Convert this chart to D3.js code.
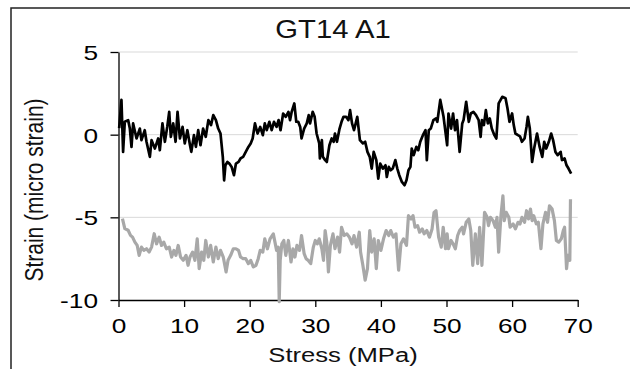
<!DOCTYPE html>
<html>
<head>
<meta charset="utf-8">
<script src="https://cdn.jsdelivr.net/npm/d3@7"></script>
<style>
  html, body { margin: 0; padding: 0; background: #fff; }
  svg { display: block; font-family: "Liberation Sans", Arial, sans-serif; }
</style>
</head>
<body>
<svg id="chart" width="630" height="369"></svg>
<script>
const title = "GT14 A1";
const xLabel = "Stress (MPa)";
const yLabel = "Strain (micro strain)";
const xTicks = [0, 10, 20, 30, 40, 50, 60, 70];
const yTicks = [-10, -5, 0, 5];

const blackStress = [0.1,0.45,0.7,0.96,1.47,1.73,1.98,2.23,2.75,3.25,3.5,4.0,4.27,4.78,5.04,5.54,6.05,6.3,6.7,7.07,7.43,7.73,7.98,8.34,8.7,9.0,9.36,9.77,10.1,10.5,10.9,11.1,11.5,11.8,12.15,12.5,12.9,13.3,13.7,14.1,14.45,14.85,15.2,15.55,15.9,16.1,16.3,16.6,16.9,17.25,17.6,17.9,18.3,18.6,19.0,19.4,19.8,20.15,20.45,20.8,21.2,21.6,22.0,22.3,22.6,23.0,23.35,23.7,24.1,24.4,24.7,25.1,25.5,25.9,26.15,26.4,26.8,27.1,27.4,27.7,27.9,28.3,28.7,29.0,29.2,29.6,29.9,30.2,30.6,30.7,31.0,31.15,31.5,31.75,32.15,32.5,32.8,33.0,33.3,33.7,34.0,34.3,34.7,35.05,35.3,35.6,35.9,36.4,36.8,37.25,37.6,37.95,38.3,38.6,38.9,39.3,39.6,39.9,40.3,40.7,40.9,41.2,41.5,41.8,42.2,42.5,42.8,43.2,43.6,43.9,44.2,44.5,44.7,45.0,45.4,45.7,46.0,46.4,46.8,47.0,47.3,47.6,48.0,48.4,48.6,49.05,49.55,50.1,50.3,50.7,51.0,51.3,51.6,52.0,52.4,52.6,53.0,53.4,53.7,54.1,54.5,54.9,55.2,55.4,55.7,56.0,56.3,56.6,56.9,57.3,57.6,57.95,58.5,59.0,59.3,59.6,60.0,60.25,60.5,60.9,61.2,61.5,61.9,62.2,62.4,62.7,63.05,63.4,63.8,64.2,64.6,64.9,65.2,65.6,65.95,66.25,66.6,66.95,67.4,67.6,68.0,68.3,68.6,69.0];
const blackStrain = [0.4,2.1,-1.04,0.78,0.88,0.37,-0.74,0.68,-0.23,0.37,-0.33,0.27,-0.43,-1.34,-0.33,-0.84,-0.23,-0.94,0.68,-0.43,0.47,1.38,-0.13,0.68,-0.43,1.38,-0.23,0.47,-0.53,0.27,-0.64,-1.04,-0.03,-0.74,0.27,-0.64,0.37,-0.13,0.88,0.58,1.18,0.88,0.37,0.07,-1.34,-2.76,-1.85,-1.65,-1.75,-1.95,-2.45,-1.75,-1.65,-1.44,-1.34,-1.04,-0.74,-0.53,-0.23,0.68,0.07,0.47,-0.03,0.68,0.27,0.78,0.27,0.78,0.47,0.88,0.27,1.28,1.08,1.38,0.88,1.38,1.89,0.78,0.78,0.47,-0.23,0.37,0.68,1.18,0.68,1.38,1.08,0.07,-0.53,-1.44,-0.33,-1.34,-1.54,-1.65,-0.64,-0.23,-0.43,0.07,-0.43,0.37,0.78,1.08,1.08,0.88,1.48,0.68,0.27,1.08,-0.33,-0.53,-0.43,-1.04,-1.34,-2.05,-1.04,-1.54,-2.66,-1.75,-2.05,-1.85,-2.56,-1.95,-2.15,-2.05,-1.54,-2.05,-2.45,-2.86,-3.06,-2.76,-2.15,-1.95,-0.84,-1.24,-0.74,-0.94,-0.43,-0.03,0.27,-1.54,0.27,0.37,0.88,0.98,0.78,2.1,1.08,-0.64,1.28,0.37,1.28,0.27,0.88,-1.04,0.68,0.88,1.99,0.78,1.28,1.38,1.18,0.88,-0.13,0.88,0.58,1.48,0.68,0.98,0.37,-0.03,-0.23,1.89,2.29,2.2,1.58,0.78,1.28,0.58,0.07,-0.03,-0.1,-0.43,-0.23,0.47,1.08,0.37,-1.65,-0.74,0.07,-0.74,-1.34,-0.43,-0.84,-0.43,0.07,-0.33,-1.04,-1.24,-1.04,-1.54,-1.44,-1.85,-2.05,-2.35];

const grayStress = [0.6,0.96,1.47,1.83,2.14,2.5,2.85,3.15,3.5,3.86,4.27,4.67,5.04,5.44,5.8,6.2,6.56,6.9,7.3,7.73,8.1,8.44,8.75,9.1,9.46,9.87,10.3,10.6,10.9,11.3,11.65,12.0,12.3,12.67,13.0,13.3,13.7,14.05,14.45,14.85,15.2,15.55,15.97,16.4,16.7,17.1,17.5,17.9,18.3,18.6,19.0,19.4,19.8,20.15,20.55,20.96,21.3,21.6,22.0,22.3,22.7,23.1,23.6,24.1,24.35,24.5,24.65,24.9,25.2,25.5,25.9,26.3,26.6,26.9,27.2,27.6,27.9,28.3,28.6,28.9,29.3,29.7,30.0,30.3,30.6,31.0,31.25,31.5,31.75,32.0,32.3,32.7,33.0,33.4,33.7,34.0,34.4,34.8,35.2,35.6,35.9,36.3,36.7,36.9,37.25,37.6,37.95,38.3,38.6,38.97,39.3,39.6,40.0,40.4,40.8,41.2,41.5,41.9,42.3,42.7,43.05,43.45,43.9,44.2,44.6,44.9,45.2,45.6,45.9,46.3,46.6,47.0,47.4,47.8,48.1,48.4,48.8,49.2,49.5,49.85,50.1,50.3,50.7,51.0,51.35,51.7,52.0,52.4,52.6,53.0,53.4,53.7,54.0,54.4,54.75,55.05,55.4,55.8,56.2,56.4,56.7,57.1,57.45,57.7,57.95,58.3,58.6,58.8,59.1,59.5,59.7,60.15,60.5,60.9,61.2,61.5,61.9,62.2,62.5,62.8,63.05,63.3,63.7,64.0,64.4,64.7,65.1,65.4,65.7,66.1,66.45,66.75,67.1,67.5,67.8,68.0,68.3,68.5,68.8,68.9];
const grayStrain = [-5.08,-5.68,-5.78,-6.09,-6.2,-6.5,-6.7,-7.3,-6.8,-7.0,-6.9,-7.1,-6.8,-5.99,-6.6,-6.2,-6.7,-6.5,-6.9,-6.8,-7.4,-7.0,-7.3,-6.7,-7.4,-7.6,-7.3,-7.9,-7.4,-7.1,-7.6,-6.3,-8.1,-7.1,-7.6,-6.4,-7.4,-6.7,-7.7,-6.8,-7.5,-7.0,-7.4,-8.3,-7.6,-7.3,-6.9,-6.9,-7.0,-7.4,-7.5,-7.5,-7.8,-7.6,-8.0,-7.9,-7.5,-7.0,-7.1,-6.3,-6.9,-6.3,-6.0,-7.0,-6.8,-10.1,-7.6,-6.6,-6.4,-7.3,-6.4,-7.7,-6.9,-7.4,-6.7,-7.0,-6.1,-7.2,-7.5,-7.6,-7.8,-6.8,-6.4,-6.6,-6.3,-6.9,-7.6,-5.8,-6.5,-8.3,-6.7,-6.0,-6.9,-6.2,-7.1,-5.6,-6.1,-6.0,-6.2,-6.6,-6.1,-6.8,-5.9,-7.1,-7.9,-8.8,-8.1,-5.8,-7.1,-6.3,-8.1,-6.4,-7.0,-6.3,-5.8,-6.1,-5.8,-6.2,-6.0,-8.2,-6.6,-6.3,-6.7,-4.9,-5.1,-4.9,-5.6,-5.5,-5.9,-5.7,-6.0,-5.8,-6.2,-5.7,-4.7,-4.6,-6.2,-6.8,-5.6,-6.9,-6.0,-6.9,-6.4,-6.6,-6.9,-6.1,-5.8,-5.6,-6.0,-5.3,-5.1,-5.8,-7.9,-6.0,-7.8,-5.6,-7.9,-4.7,-5.0,-5.5,-5.0,-5.2,-5.6,-5.0,-7.1,-4.9,-3.7,-5.2,-4.7,-5.0,-5.6,-5.4,-5.7,-5.3,-5.4,-5.0,-5.3,-4.6,-5.1,-4.5,-5.2,-4.9,-5.4,-5.3,-6.9,-5.4,-4.7,-5.3,-4.3,-4.5,-5.2,-6.4,-6.5,-6.3,-5.8,-5.6,-8.1,-7.3,-7.6,-3.9];

const svg = d3.select("#chart");
const SX = 1.25; // horizontal stretch of the original lettering

// outer frame
svg.append("rect").attr("x", 11).attr("y", 8).attr("width", 700).attr("height", 500)
  .attr("fill", "none").attr("stroke", "#222").attr("stroke-width", 1.5);

const x = d3.scaleLinear().domain([0, 70]).range([118.5, 577.7]);
const y = d3.scaleLinear().domain([-10, 5]).range([300, 52]);

// gridlines
svg.append("g").selectAll("line").data(yTicks.filter(d => d !== -10)).join("line")
  .attr("x1", x(0)).attr("x2", x(70)).attr("y1", d => y(d)).attr("y2", d => y(d))
  .attr("stroke", "#d9d9d9").attr("stroke-width", 1);

// axes
const yAxis = svg.append("g").attr("transform", `translate(${x(0)},0)`)
  .call(d3.axisLeft(y).tickValues(yTicks).tickFormat(d => String(d)).tickSize(8).tickSizeOuter(0));
const xAxis = svg.append("g").attr("transform", `translate(0,${y(-10)})`)
  .call(d3.axisBottom(x).tickValues(xTicks).tickFormat(d => String(d)).tickSize(7).tickSizeOuter(0));

[yAxis, xAxis].forEach(g => {
  g.selectAll("path, line").attr("stroke", "#000").attr("stroke-width", 1.3);
  g.selectAll("text").attr("font-size", 21).attr("fill", "#000")
    .style("font-family", '"Liberation Sans", Arial, sans-serif');
});
yAxis.selectAll(".tick text").attr("x", -20.5 / SX).attr("dy", "0.35em")
  .attr("transform", `scale(${SX},1)`);
xAxis.selectAll(".tick text").attr("y", 33).attr("dy", 0)
  .attr("transform", `scale(${SX},1)`);

// series
const line = d3.line().x(d => x(d[0])).y(d => y(d[1]));
const gray = d3.zip(grayStress, grayStrain);
const black = d3.zip(blackStress, blackStrain);
svg.append("path").datum(gray).attr("d", line).attr("fill", "none")
  .attr("stroke", "#a8a8a8").attr("stroke-width", 3.2).attr("stroke-linejoin", "round");
svg.append("path").datum(black).attr("d", line).attr("fill", "none")
  .attr("stroke", "#000").attr("stroke-width", 2.7).attr("stroke-linejoin", "round");

// title and axis titles
svg.append("text").attr("transform", `translate(333,38) scale(1.17,1)`)
  .attr("text-anchor", "middle").attr("font-size", 25).attr("fill", "#111").text(title);
svg.append("text").attr("transform", `translate(343,362) scale(1.22,1)`)
  .attr("text-anchor", "middle").attr("font-size", 21).attr("fill", "#111").text(xLabel);
svg.append("text").attr("transform", `translate(43,190) scale(${SX},1) rotate(-90)`)
  .attr("text-anchor", "middle").attr("font-size", 21).attr("fill", "#111").text(yLabel);
</script>
</body>
</html>
